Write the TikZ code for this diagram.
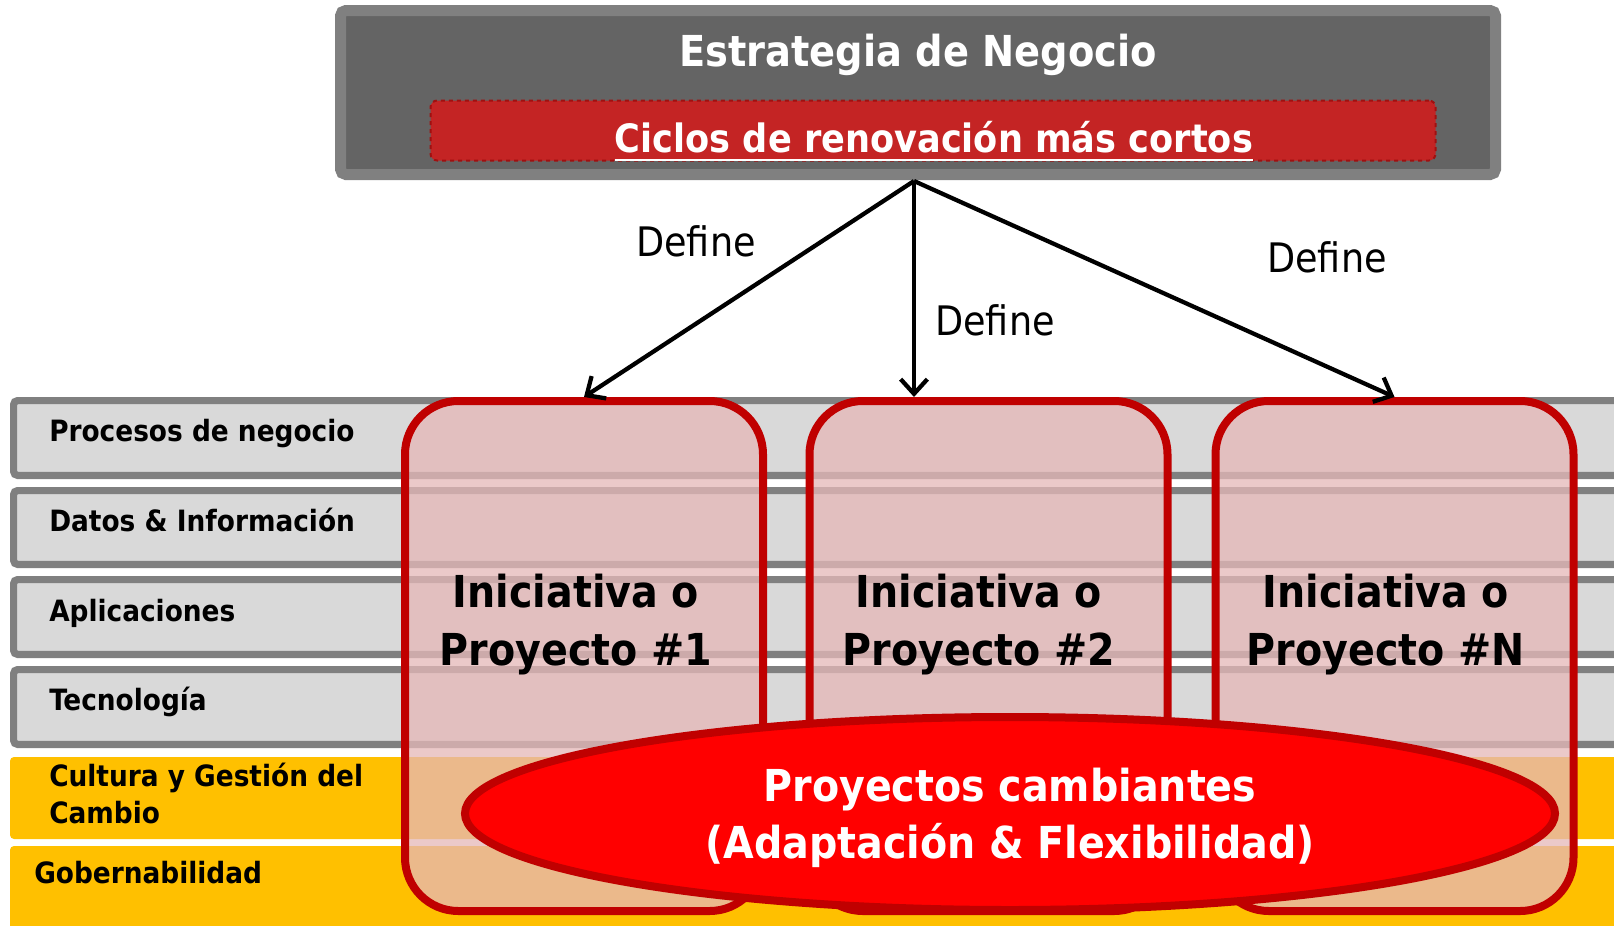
\documentclass[tikz,border=0pt]{standalone}
\usepackage{fontspec}
\setmainfont{DejaVu Sans Condensed}
\usetikzlibrary{arrows.meta,shapes.geometric}
\definecolor{bargray}{HTML}{D9D9D9}
\definecolor{barline}{HTML}{808080}
\definecolor{topfill}{HTML}{646464}
\definecolor{cyclered}{HTML}{C42424}
\definecolor{cycleline}{HTML}{A01010}
\definecolor{darkred}{HTML}{C00000}
\definecolor{boxpink}{RGB}{229,184,184}
\definecolor{gold}{HTML}{FFC000}
\def\u{0.75pt}
\tikzset{
  bar/.style={draw=barline, line width=5.4pt, fill=bargray, rounded corners=3pt},
  goldbar/.style={fill=gold, rounded corners=3pt},
  layerlabel/.style={anchor=base west, inner sep=0pt, font=\bfseries\fontsize{22}{27}\selectfont},
  projbox/.style={draw=darkred, line width=6pt, fill=boxpink, fill opacity=0.76, draw opacity=1,
    rounded corners=40pt, minimum width=358*\u, minimum height=510*\u, inner sep=0pt},
  projtext/.style={anchor=base, inner sep=0pt, font=\bfseries\fontsize{33}{40}\selectfont},
  elltext/.style={anchor=base, inner sep=0pt, text=white, font=\bfseries\fontsize{33}{40}\selectfont},
  deflabel/.style={anchor=base, inner sep=0pt, font=\fontsize{30.5}{36}\selectfont},
  arr/.style={line width=3.2pt, -{Straight Barb[length=11pt, width=20pt, line width=3.2pt]}},
}
\begin{document}
\begin{tikzpicture}[x=0.75pt, y=-0.75pt]
\useasboundingbox (0,0) rectangle (1614,925);
\clip (0,0) rectangle (1614,925);
% layer bars
\draw[bar] (13.6,400.6) rectangle (1640,475.4);
\draw[bar] (13.6,490.6) rectangle (1640,564.4);
\draw[bar] (13.6,579.6) rectangle (1640,654.4);
\draw[bar] (13.6,669.6) rectangle (1640,744.4);
\fill[goldbar] (10,757) rectangle (1640,839);
\fill[goldbar] (10,846) rectangle (1640,950);
\node[layerlabel] (l1) at (49,441) {Procesos de negocio};
\node[layerlabel] (l2) at (49,531) {Datos \& Información};
\node[layerlabel] (l3) at (49,621) {Aplicaciones};
\node[layerlabel] (l4) at (49,710) {Tecnología};
\node[layerlabel] (l5a) at (49,786) {Cultura y Gestión del};
\node[layerlabel] (l5b) at (49,823) {Cambio};
\node[layerlabel] (l6) at (34,883) {Gobernabilidad};
% top strategy box
\node[draw=barline, line width=8.25pt, fill=topfill, rounded corners=4pt,
  minimum width=1155*\u, minimum height=164*\u, inner sep=0pt] (top) at (918,92.5) {};
\node[draw=cycleline, dashed, line width=1.5pt, fill=cyclered, rounded corners=5pt,
  minimum width=1005*\u, minimum height=60*\u, inner sep=0pt] (cycbox) at (933,130.5) {};
\node[anchor=base, inner sep=0pt, text=white, font=\bfseries\fontsize{32}{38}\selectfont] (title) at (918,66) {Estrategia de Negocio};
\node[anchor=base, inner sep=0pt, text=white, font=\bfseries\fontsize{29.3}{35}\selectfont] (cyc) at (934,152) {Ciclos de renovación más cortos};
\draw[white, line width=2.2pt] ([yshift=-6pt]cyc.base west) -- ([yshift=-6pt]cyc.base east);
% project boxes
\node[projbox] (p1) at (584,656) {};
\node[projbox] (p2) at (988.5,656) {};
\node[projbox] (p3) at (1394.5,656) {};
\node[projtext] (t1a) at (576,607) {Iniciativa o};
\node[projtext] (t1b) at (576,665) {Proyecto \#1};
\node[projtext] (t2a) at (979,607) {Iniciativa o};
\node[projtext] (t2b) at (979,665) {Proyecto \#2};
\node[projtext] (t3a) at (1386,607) {Iniciativa o};
\node[projtext] (t3b) at (1386,665) {Proyecto \#N};
% ellipse
\node[ellipse, draw=darkred, line width=6pt, fill=red, minimum width=1090*\u, minimum height=193*\u, inner sep=0pt] (ell) at (1010,813.5) {};
\node[elltext] (e1) at (1010,801) {Proyectos cambiantes};
\node[elltext] (e2) at (1010,858) {(Adaptación \& Flexibilidad)};
% arrows
\coordinate (src) at (914,181);
\draw[arr] (src) -- (p1.north);
\draw[arr] (src) -- (src |- p2.north);
\draw[arr] (src) -- (p3.north);
\node[deflabel] (d1) at (696,256) {Define};
\node[deflabel] (d2) at (995,335) {Define};
\node[deflabel] (d3) at (1327,272) {Define};
\end{tikzpicture}
\end{document}
